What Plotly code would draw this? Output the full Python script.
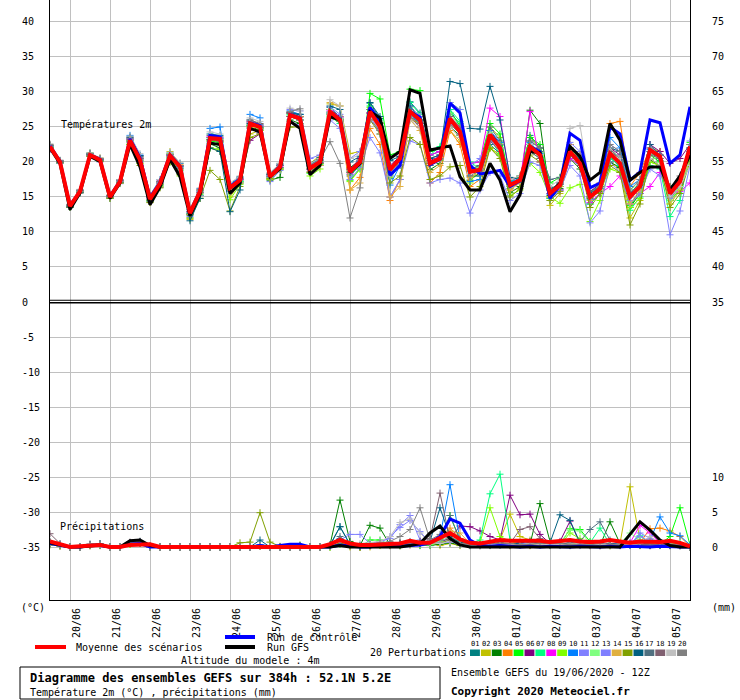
import plotly.graph_objects as go
import pandas as pd

# 6-hourly steps from 19/06/2020 12Z to +384h
times = pd.date_range("2020-06-19 12:00", periods=65, freq="6h")
day_ticks = pd.date_range("2020-06-20", "2020-07-05", freq="D")
day_labels = [d.strftime("%d/%m") for d in day_ticks]

left_ticks = [40, 35, 30, 25, 20, 15, 10, 5, 0, -5, -10, -15, -20, -25, -30, -35]
right_ticks = [40, 35, 30, 25, 20, 15, 10, 5, 0, -25, -30, -35]
right_labels = ["75", "70", "65", "60", "55", "50", "45", "40", "35", "10", "5", "0"]

# --- 2m temperature (°C) ---
t_mean = [22.2,20.0,13.7,15.8, 21.0,20.3,15.0,17.2, 23.1,20.3,14.7,16.9, 20.9,19.3,12.7,15.8, 23.4,23.3,16.3,17.4, 25.5,25.0,17.9,19.3, 26.7,26.2,19.1,20.0, 27.2,26.0,18.6,20.0, 27.2,25.0,18.9,20.5, 27.2,26.0,19.8,20.5, 26.2,24.3,18.6,18.9, 23.9,22.0,16.7,17.4, 22.2,21.0,15.5,16.7, 21.5,19.8,15.0,16.2, 21.2,19.8,15.0,16.5, 21.7,20.8,15.5,17.2, 22.2]
t_ctrl = [22.3,20.1,13.8,15.8, 21.0,20.4,15.1,17.3, 23.3,20.6,14.9,17.1, 21.0,19.4,12.8,15.9, 23.8,23.6,16.5,17.5, 25.6,25.2,17.9,19.4, 26.8,26.3,19.2,20.0, 27.2,26.1,18.5,19.9, 27.8,25.8,18.1,19.5, 27.2,26.4,19.6,20.4, 28.4,27.0,19.5,18.3, 18.5,18.8,16.5,17.3, 22.2,21.5,14.8,16.7, 24.1,23.1,16.3,17.0, 25.0,24.0,17.4,18.6, 26.0,25.6,19.8,21.0, 27.9]
t_gfs = [22.0,19.8,13.2,15.6, 20.8,20.1,14.8,17.0, 22.5,19.3,13.9,16.4, 20.4,17.9,12.3,15.4, 22.7,22.5,15.5,17.0, 24.8,24.3,17.9,19.0, 25.8,24.8,18.2,19.5, 26.5,26.0,18.5,19.8, 27.2,26.3,20.5,21.5, 30.3,29.8,21.7,22.0, 22.3,17.9,16.0,16.0, 19.8,17.4,12.9,15.3, 21.5,21.3,15.5,17.0, 22.2,20.8,17.4,18.5, 25.5,23.1,17.4,18.5, 19.3,19.3,16.0,18.0, 21.0]

t01 = [22.0,20.1,13.8,15.9, 21.2,20.5,15.2,17.0, 23.5,20.8,14.9,17.0, 20.6,19.0,12.9,15.6, 24.0,23.8,16.8,17.9, 26.0,25.4,18.4,19.8, 27.1,26.8,19.5,20.6, 27.8,26.4,18.0,19.6, 28.4,26.2,17.6,19.8, 28.6,27.0,21.0,21.5, 27.5,25.0,18.0,18.0, 22.5,21.2,16.2,17.8, 23.8,22.0,14.8,16.0, 22.5,20.5,14.0,15.5, 20.8,19.2,13.8,16.0, 21.5,20.2,14.5,16.8, 22.0]
t02 = [22.4,20.2,13.6,15.6, 21.1,20.6,15.1,17.3, 22.8,19.8,14.2,16.4, 21.5,19.8,11.8,14.8, 22.0,21.5,15.0,17.0, 24.0,24.5,18.2,19.5, 27.0,26.5,19.8,20.9, 28.3,28.0,21.2,21.5, 26.5,24.5,18.6,20.0, 26.0,25.6,20.5,21.0, 24.5,23.0,18.8,19.5, 25.0,23.5,17.0,17.5, 23.5,22.0,13.8,15.5, 20.5,19.5,15.8,16.5, 20.0,19.0,12.0,14.5, 20.0,19.5,16.5,17.5, 21.5]
t03 = [22.1,19.9,13.5,15.7, 21.3,20.4,14.9,17.1, 23.0,20.5,14.5,16.6, 20.2,18.4,12.4,15.2, 22.6,22.0,16.0,17.2, 25.0,24.6,17.4,17.8, 26.0,25.5,19.0,19.8, 26.8,26.0,19.2,20.2, 27.5,25.6,19.2,20.0, 26.5,25.5,18.9,19.8, 25.0,23.8,17.4,18.5, 24.5,22.4,15.6,16.5, 27.4,25.5,15.2,16.2, 20.5,19.0,14.8,15.8, 20.0,19.2,13.5,15.5, 20.3,19.5,15.5,17.0, 21.0]
t04 = [22.3,20.0,13.9,16.0, 21.0,20.3,15.3,17.4, 23.3,20.6,15.0,17.2, 21.2,19.6,13.2,16.0, 23.0,23.0,16.6,17.6, 25.6,25.0,17.6,19.0, 26.5,26.0,19.0,19.5, 27.5,25.8,16.0,17.8, 24.8,22.5,14.5,17.5, 26.5,25.0,17.0,18.5, 24.5,22.5,16.5,17.5, 22.0,21.0,16.0,17.2, 22.5,21.0,15.0,16.5, 22.5,20.0,15.5,17.0, 25.5,25.8,16.5,18.5, 22.0,21.5,14.5,16.5, 20.5]
t05 = [22.0,19.8,13.6,15.8, 20.8,20.1,14.8,17.0, 22.5,20.0,14.4,16.8, 20.5,18.8,12.6,15.4, 23.0,22.8,15.8,17.0, 25.2,24.8,17.6,19.0, 26.5,26.0,18.4,19.6, 27.0,26.2,17.4,19.0, 29.8,29.0,21.0,21.5, 30.4,30.2,21.5,22.0, 27.0,25.5,19.8,20.0, 25.5,24.0,17.2,18.0, 23.5,22.5,17.0,17.8, 22.0,20.0,15.0,16.5, 22.0,20.5,13.8,15.5, 21.0,20.0,14.5,16.0, 22.8]
t06 = [21.8,20.0,13.8,15.9, 20.9,20.2,15.0,17.3, 23.4,20.9,15.1,17.3, 21.0,19.5,12.5,15.6, 23.2,23.0,16.2,17.5, 23.1,24.0,17.8,19.5, 27.0,26.5,19.3,20.3, 27.5,26.5,19.0,20.5, 27.0,24.8,19.5,20.8, 27.0,25.5,20.2,20.8, 25.5,24.0,18.5,19.0, 24.5,22.5,16.8,17.4, 22.0,21.5,16.0,17.0, 21.5,20.5,15.8,16.8, 22.0,21.0,15.5,16.5, 22.5,21.5,19.8,20.5, 22.5]
t07 = [22.2,20.1,13.7,15.7, 21.0,20.2,15.1,17.1, 23.0,20.2,14.6,16.8, 20.8,19.2,12.6,15.9, 23.5,23.3,16.0,17.2, 25.2,24.8,18.0,19.0, 26.8,26.0,19.5,20.0, 26.5,25.5,18.2,19.4, 28.0,26.0,19.0,20.5, 28.5,26.8,21.0,22.2, 27.5,25.8,20.0,19.0, 23.5,21.0,16.5,17.5, 21.5,20.5,14.8,16.5, 20.5,19.5,14.0,15.5, 20.5,19.5,13.1,15.0, 19.5,19.0,12.2,14.5, 21.5]
t08 = [22.1,20.0,13.6,15.8, 21.1,20.4,15.0,17.2, 23.2,20.4,14.8,17.0, 20.9,19.3,12.9,15.9, 23.6,23.4,16.4,17.5, 25.8,25.2,18.0,19.3, 26.5,26.0,18.9,19.9, 27.4,26.3,18.3,20.2, 27.0,25.0,18.5,20.0, 27.5,26.5,21.0,21.5, 26.5,24.8,19.8,20.0, 27.7,26.5,17.6,17.2, 27.2,20.0,15.5,16.0, 20.5,19.5,14.2,15.5, 16.5,18.0,14.0,15.5, 16.5,18.5,15.3,15.8, 17.0]
t09 = [22.0,19.9,13.7,15.9, 21.0,20.2,14.9,17.0, 22.6,19.8,14.4,16.5, 20.0,18.0,12.0,15.2, 22.0,21.8,14.6,16.8, 24.8,24.5,17.5,18.9, 25.8,25.0,18.0,19.0, 26.6,26.0,17.2,19.0, 27.8,25.5,17.8,19.6, 27.5,26.0,20.0,20.2, 28.5,27.5,17.0,19.5, 22.0,21.0,15.2,16.0, 19.8,18.5,15.0,14.1, 16.3,16.8,11.5,14.5, 19.0,18.5,13.5,14.8, 20.0,19.5,14.0,16.0, 22.5]
t10 = [22.3,20.2,13.9,16.0, 21.2,20.4,15.2,17.4, 23.8,21.0,15.2,17.5, 21.3,19.8,13.2,16.2, 24.8,25.0,16.8,17.8, 26.8,26.3,18.2,19.6, 27.3,26.8,19.6,20.3, 27.0,25.8,18.5,20.1, 26.5,24.5,16.7,19.5, 26.8,25.5,19.5,20.5, 25.8,24.0,17.2,17.5, 24.5,22.8,17.2,17.6, 22.8,21.2,15.4,16.5, 21.0,19.8,14.6,16.2, 23.5,22.0,16.5,17.5, 21.8,20.5,15.5,17.2, 21.5]
t11 = [21.9,19.8,13.5,15.6, 20.8,20.0,14.8,16.9, 22.8,20.0,14.3,16.4, 20.2,18.6,12.2,15.2, 22.8,22.5,15.8,17.0, 24.8,24.2,17.2,18.8, 25.8,25.2,18.6,19.5, 26.0,24.8,17.5,19.2, 23.5,21.3,15.0,17.5, 23.0,22.5,17.0,17.5, 17.7,17.0,12.7,16.0, 18.5,18.0,14.5,15.5, 20.0,19.5,14.5,16.0, 19.5,18.0,11.3,13.0, 20.0,18.5,14.0,15.5, 19.0,18.0,9.6,13.0, 19.5]
t12 = [22.2,20.0,13.8,15.8, 21.0,20.3,15.1,17.2, 23.1,20.3,14.6,16.9, 21.2,19.5,12.8,15.9, 23.3,23.2,16.2,17.3, 25.3,24.9,17.8,19.2, 26.6,26.0,19.2,20.1, 27.5,26.2,18.8,20.3, 27.5,25.0,18.0,20.5, 27.8,26.5,19.5,20.5, 27.0,25.0,18.5,19.5, 24.2,22.0,16.5,17.2, 22.5,21.5,16.0,17.0, 22.0,20.5,15.5,16.8, 21.0,20.0,16.0,17.0, 21.0,20.5,14.5,16.5, 20.5]
t13 = [22.3,20.1,13.7,15.9, 21.0,20.3,15.0,17.3, 23.3,20.6,14.8,17.1, 21.0,19.4,12.8,15.8, 23.5,23.5,16.5,17.6, 25.6,25.2,18.0,19.5, 27.5,27.3,20.5,21.0, 27.9,26.8,20.5,21.5, 26.5,24.0,15.0,17.5, 28.0,26.5,20.5,21.0, 28.5,27.5,19.5,20.5, 23.0,22.0,16.5,17.5, 22.5,21.5,16.0,17.0, 22.8,21.5,15.0,16.0, 22.5,21.5,14.5,16.5, 22.0,21.0,14.8,17.0, 23.0]
t14 = [22.0,20.0,13.6,15.7, 20.9,20.2,14.9,17.0, 23.0,20.2,14.6,16.8, 20.8,19.0,12.5,15.6, 23.2,23.0,16.0,17.0, 25.0,24.8,17.6,19.0, 27.0,26.5,18.6,19.5, 28.5,28.0,16.0,17.0, 27.0,25.0,15.0,16.5, 26.0,24.5,18.5,19.5, 25.0,23.5,17.8,18.5, 23.5,22.0,16.0,17.0, 22.0,21.0,15.0,16.5, 22.0,21.0,14.5,16.0, 21.5,20.5,14.0,16.0, 20.5,19.5,14.0,16.0, 21.0]
t15 = [22.1,19.9,13.5,15.6, 20.8,20.1,14.8,17.0, 22.5,19.5,14.2,16.3, 20.0,18.2,12.0,14.8, 18.8,17.5,13.0,16.5, 23.5,24.0,17.6,19.2, 25.0,25.0,18.5,19.8, 26.3,25.8,18.5,19.8, 26.0,24.0,17.0,18.0, 23.5,22.5,17.5,18.0, 19.3,19.5,15.0,16.5, 22.0,20.5,15.0,16.2, 21.0,20.0,14.5,15.8, 21.0,19.5,13.5,15.5, 19.5,18.5,11.0,14.0, 20.5,19.5,13.5,15.5, 20.0]
t16 = [22.3,20.1,13.6,15.6, 21.1,20.4,15.2,17.5, 23.6,20.9,15.1,17.2, 21.0,19.4,11.6,14.8, 22.0,21.5,12.9,16.0, 25.5,25.0,18.2,19.5, 27.0,26.8,19.8,20.6, 28.0,27.5,20.0,20.8, 28.5,26.5,20.2,20.8, 28.0,26.0,20.5,21.0, 31.5,31.2,24.8,24.7, 30.8,26.0,17.8,17.5, 23.0,22.0,16.2,16.8, 21.5,20.5,15.5,16.5, 22.0,21.5,15.5,17.0, 22.5,21.0,16.0,17.5, 22.0]
t17 = [22.0,19.9,13.6,15.7, 20.9,20.2,15.0,17.1, 23.0,20.3,14.6,16.9, 20.7,19.1,12.6,15.7, 23.2,23.0,16.2,17.4, 25.3,24.9,17.9,19.2, 26.5,26.0,19.0,19.9, 27.0,26.0,18.6,20.0, 27.0,25.0,18.0,20.0, 27.5,26.0,19.5,20.3, 26.0,24.5,19.0,19.5, 25.0,23.0,17.5,18.0, 22.5,21.5,17.5,17.8, 21.0,20.0,15.8,16.5, 21.5,20.5,15.5,17.0, 21.5,20.5,16.5,17.5, 22.0]
t18 = [22.4,20.1,13.8,15.9, 21.1,20.4,15.1,17.3, 23.2,20.5,14.9,17.1, 21.0,19.4,12.9,16.0, 23.8,23.6,16.6,17.7, 26.0,25.5,18.3,19.6, 27.0,26.4,19.4,20.2, 27.2,26.0,18.9,20.3, 27.5,25.5,19.2,20.6, 26.5,25.0,19.8,20.5, 26.5,25.0,18.5,19.0, 23.0,21.5,16.8,17.5, 21.5,20.5,15.5,16.8, 21.0,19.5,15.0,16.3, 21.8,20.5,15.0,16.8, 21.0,20.5,15.0,17.0, 21.8]
t19 = [22.6,20.3,14.0,16.1, 21.3,20.6,15.3,17.5, 23.7,21.2,15.3,17.5, 21.4,19.9,13.3,16.3, 24.3,24.0,17.0,18.0, 26.3,25.8,18.5,19.8, 27.7,27.3,19.8,20.5, 28.9,28.0,20.5,21.0, 26.5,24.5,18.0,19.8, 26.0,25.0,20.0,20.5, 25.0,23.5,18.5,19.0, 24.0,22.5,17.5,18.0, 22.5,21.0,16.5,17.5, 24.8,25.2,16.5,17.0, 22.0,20.5,15.0,17.0, 20.5,19.5,15.0,16.5, 19.5]
t20 = [22.5,20.2,13.9,16.0, 21.2,20.5,15.2,17.4, 23.4,20.7,15.0,17.2, 21.1,19.5,13.0,16.1, 23.5,23.3,16.4,17.6, 25.8,25.3,18.0,19.5, 27.2,27.6,19.6,20.3, 22.9,19.8,12.0,16.3, 26.0,24.5,18.5,19.5, 26.5,25.5,20.0,20.5, 25.5,24.0,18.0,18.8, 23.5,22.5,17.0,17.5, 23.0,22.0,16.0,17.0, 22.0,21.0,15.0,16.5, 22.5,21.5,16.0,17.5, 22.0,21.0,16.0,18.0, 22.5]

# --- precipitation (mm / 6h) ---
p_mean = [0.8,0.4,0.0,0.1, 0.2,0.3,0.0,0.0, 0.3,0.4,0.4,0.0, 0,0,0,0, 0,0,0,0, 0.1,0.1,0.1,0.1, 0.1,0.1,0.0,0.0, 0.4,1.0,0.5,0.3, 0.3,0.4,0.4,0.5, 0.9,0.6,0.6,1.3, 2.0,1.1,0.6,0.5, 0.8,1.0,0.9,0.9, 0.9,0.9,0.7,0.9, 1.0,0.8,0.7,0.8, 1.0,0.8,0.6,0.8, 0.8,0.7,0.9,0.6, 0.1]
p_ctrl = [0.5,0.2,0,0, 0.2,0.2,0,0, 0.4,0.5,0,0, 0,0,0,0, 0,0,0,0, 0,0.2,0,0.2, 0.4,0.4,0,0, 0,0.3,0.1,0, 0,0.3,0.2,0.1, 0.2,0.3,0.6,1.5, 4.0,3.4,1.0,0.2, 0.1,0.2,0.1,0, 0.1,0,0.1,0, 0,0.1,0,0, 0.1,0,0.1,0, 0,0.1,0,0, 0.0]
p_gfs = [0.6,0.3,0,0, 0.2,0.3,0,0, 0.9,1.0,0.2,0, 0,0,0,0, 0,0,0,0, 0,0,0,0, 0,0,0,0, 0,0.2,0,0, 0,0.1,0,0, 0.2,0.5,2.0,3.0, 1.2,0.3,0,0, 0,0,0,0, 0,0,0,0, 0,0,0,0, 0,0,1.8,3.6, 2.4,1.0,0.2,0, 0.0]

p01 = [0.6,0.3,0,0, 0.3,0.4,0,0, 0.5,0.6,0.1,0, 0,0,0,0, 0,0,0,0, 0,0.3,0,0, 0,0,0,0, 0.2,2.9,0.3,0, 0.2,0.5,0.3,0.4, 0.6,0.2,0.4,0.8, 1.2,0.4,0.2,0.3, 0.5,0.3,0.2,0.4, 0.6,0.3,0.2,0.3, 0.4,0.6,0.2,0.3, 0.2,0.3,0.2,0.4, 0.3,0.2,0.3,0.2, 0.0]
p02 = [0.5,0.2,0,0, 0.2,0.3,0,0, 0.4,0.5,0,0, 0,0,0,0, 0,0,0,0, 0,0.1,0,0, 0,0,0,0, 0,0.5,0,0, 0,0.3,0.5,0.2, 0.3,0.8,0.6,0.2, 0.5,0.2,0.3,0.2, 0.4,1.0,4.7,1.5, 1.0,0.5,0.4,0.3, 0.2,0.4,0.3,0.2, 0.3,0.5,8.6,1.0, 0.5,0.3,0.4,0.2, 0.0]
p03 = [0.7,0.3,0,0, 0.3,0.3,0,0, 0.6,0.8,0.1,0, 0,0,0,0, 0,0,0,0, 0,0.2,0,0, 0,0,0,0, 0.3,6.7,0.8,0.2, 3.1,2.7,0.3,0.2, 0.5,0.3,0.2,0.4, 0.6,0.3,0.2,0.3, 0.2,0.4,0.3,0.5, 0.4,6.2,0.8,0.3, 0.2,0.3,0.4,0.2, 3.6,0.5,0.3,0.2, 0.2,0.3,0.2,0.3, 0.0]
p04 = [0.5,0.3,0,0, 0.2,0.3,0,0, 0.5,0.5,0,0, 0,0,0,0, 0,0,0,0, 0,0.2,0,0, 0,0,0,0, 0.1,0.6,0.2,0, 0.2,0.3,0.2,0.3, 0.4,0.6,0.5,1.0, 2.7,1.2,0.3,0.2, 0.3,0.5,0.2,0.3, 0.2,0.3,0.2,0.4, 0.3,0.5,0.2,0.3, 0.2,0.3,0.4,0.6, 2.6,2.7,2.3,1.5, 0.1]
p05 = [0.5,0.2,0,0, 0.2,0.3,0,0, 0.5,0.6,0,0, 0,0,0,0, 0,0,0,0, 0,0.1,0,0, 0,0,0,0, 0,0.4,0.2,0, 1.0,1.0,0.3,0.5, 0.6,0.4,0.5,1.2, 4.5,1.0,0.3,0.2, 0.4,0.3,0.2,0.5, 0.4,0.3,0.4,0.3, 2.6,2.5,0.8,0.3, 0.2,0.3,0.4,0.3, 0.3,0.4,1.5,5.6, 0.3]
p06 = [0.6,0.3,0,0, 0.3,0.3,0,0, 0.6,0.7,0,0, 0,0,0,0, 0,0,0,0, 0,0.2,0,0, 0,0,0,0, 0.1,0.5,0.2,0, 0.2,0.4,0.3,0.3, 0.5,0.8,0.6,0.8, 1.2,3.0,2.9,2.3, 1.5,1.0,7.4,4.6, 4.7,1.8,0.5,0.8, 3.7,0.5,0.3,0.2, 0.3,0.2,0.4,0.3, 0.2,0.3,0.2,0.3, 0.0]
p07 = [0.5,0.3,0,0, 0.3,0.2,0,0, 0.5,0.6,0,0, 0,0,0,0, 0,0,0,0, 0,0.1,0,0, 0,0,0,0, 0.2,0.8,0.3,0.1, 0.3,0.5,0.2,0.3, 0.4,0.3,0.5,0.6, 0.8,0.6,0.4,1.0, 7.6,10.4,1.0,0.6, 0.4,0.5,0.3,0.5, 0.3,0.4,0.6,2.7, 0.4,0.3,0.5,1.6, 0.5,0.3,0.4,0.6, 0.0]
p08 = [0.6,0.3,0,0, 0.2,0.3,0,0, 0.5,0.7,0,0, 0,0,0,0, 0,0,0,0, 0,0.1,0,0, 0,0,0,0, 0.1,0.9,0.2,0, 0.3,0.4,0.2,0.3, 0.3,0.5,0.6,0.8, 1.5,0.7,0.3,0.3, 0.5,0.4,0.3,0.5, 0.4,0.3,0.5,0.4, 0.3,0.4,0.3,0.2, 0.4,0.5,0.6,3.1, 2.0,0.6,0.4,0.3, 0.0]
p09 = [0.5,0.2,0,0, 0.3,0.3,0,0, 0.4,0.6,0,0, 0,0,0,0, 0,0,0,0, 0,0.2,0,0, 0,0,0,0, 0.1,0.5,0.2,0, 0.3,0.2,0.3,0.2, 0.4,0.3,0.4,0.7, 0.8,0.5,0.3,0.6, 5.6,1.5,0.8,0.5, 0.3,0.6,0.4,0.3, 2.0,1.2,0.4,0.3, 0.2,0.3,0.5,0.4, 0.6,0.4,0.5,0.3, 0.0]
p10 = [0.6,0.3,0,0, 0.3,0.4,0,0, 0.6,0.7,0,0, 0,0,0,0, 0,0,0,0, 0,0.3,0,0, 0,0,0,0, 0.2,1.2,0.3,0.1, 0.3,0.5,0.3,0.2, 0.4,0.6,0.5,1.5, 8.9,1.0,0.4,0.3, 0.5,0.3,0.4,0.6, 0.3,0.4,0.3,0.5, 0.4,0.3,0.5,0.4, 0.3,0.4,0.3,0.6, 1.0,4.3,2.0,1.6, 0.3]
p11 = [0.5,0.3,0,0, 0.3,0.3,0,0, 0.5,0.6,0.1,0, 0,0,0,0, 0,0,0,0, 0,0.2,0,0, 0,0,0,0, 0.2,1.0,1.8,1.8, 0.5,0.8,1.2,3.2, 4.5,1.0,0.5,0.6, 0.8,0.4,0.3,0.2, 0.4,0.3,0.5,0.4, 0.3,0.4,0.3,0.2, 0.4,0.3,0.2,0.5, 0.3,0.4,0.6,1.5, 0.8,0.4,0.3,0.2, 0.0]
p12 = [0.5,0.3,0,0, 0.2,0.3,0,0, 0.4,0.5,0,0, 0,0,0,0, 0,0,0,0, 0,0.1,0,0, 0,0,0,0, 0.1,0.7,0.2,0, 0.4,0.6,0.3,0.2, 0.5,0.4,0.3,0.9, 1.4,0.8,0.5,0.3, 0.6,0.5,0.4,0.3, 0.5,0.4,0.3,0.6, 2.4,2.3,0.5,0.4, 0.3,0.5,2.0,1.0, 0.4,0.5,0.3,0.2, 0.0]
p13 = [0.6,0.3,0,0, 0.3,0.3,0,0, 0.5,0.7,0,0, 0,0,0,0, 0,0,0,0, 0,0.2,0,0, 0,0,0,0, 0.1,0.8,0.5,0.3, 0.4,0.6,1.5,2.8, 3.8,2.2,0.6,0.5, 0.7,0.5,0.3,0.2, 0.3,0.4,0.3,0.5, 0.4,0.3,0.5,0.4, 0.3,0.2,0.4,0.3, 0.5,0.4,0.3,2.0, 1.2,0.5,0.3,0.2, 0.0]
p14 = [0.5,0.2,0,0, 0.2,0.3,0,0, 0.4,0.5,0,0, 0,0,0,0, 0,0,0,0, 0,0.1,0,0, 0,0,0,0, 0.1,0.6,0.2,0, 0.2,0.3,0.2,0.3, 0.5,0.4,0.6,1.2, 2.3,2.0,0.5,0.3, 0.4,0.3,0.2,0.4, 0.3,0.4,0.5,0.3, 0.4,0.3,0.2,0.3, 0.2,0.3,0.4,0.5, 0.6,0.5,0.4,0.3, 0.0]
p15 = [0.3,0.1,0,0, 0.2,0.2,0,0, 0.4,0.5,0,0, 0,0,0,0, 0,0,0,0.6, 0.7,4.9,0.7,0.1, 0,0.3,0,0, 0,0.5,0.2,0, 0.2,0.4,0.3,0.2, 0.4,0.5,0.6,0.5, 1.0,0.6,0.4,0.3, 0.4,0.6,0.5,0.3, 0.2,0.4,0.3,0.5, 0.4,0.5,0.3,0.2, 0.3,0.2,0.4,0.3, 0.2,0.5,0.3,0.2, 0.0]
p16 = [0.7,0.4,0,0, 0.4,0.5,0,0, 0.6,0.8,0.1,0, 0,0,0,0, 0,0,0,0, 0,1.0,0,0, 0,0.2,0,0, 0.3,2.9,0.4,0.1, 0.3,0.5,0.4,0.5, 0.6,0.5,0.8,5.6, 1.5,0.6,0.4,0.3, 0.5,0.4,0.3,0.6, 0.8,0.5,0.6,4.6, 3.8,0.6,0.4,0.3, 0.5,0.4,0.3,0.5, 0.4,0.3,0.2,0.3, 0.0]
p17 = [0.5,0.3,0,0, 0.3,0.3,0,0, 0.5,0.6,0,0, 0,0,0,0, 0,0,0,0, 0,0.2,0,0, 0,0,0,0, 0.2,1.5,0.3,0.1, 0.3,0.4,0.5,0.6, 0.8,0.5,0.6,1.0, 4.5,1.0,0.5,0.4, 0.3,0.5,0.4,0.3, 0.4,0.5,0.3,0.4, 0.6,0.8,2.5,3.6, 1.0,0.5,0.3,0.4, 0.3,0.4,0.3,0.2, 0.0]
p18 = [1.9,0.5,0,0, 0.4,0.4,0,0, 0.7,0.8,0.1,0, 0,0,0,0, 0,0,0,0, 0,0.2,0,0, 0,0,0,0, 0.2,1.0,0.4,0.2, 0.3,0.5,0.4,0.6, 0.5,0.8,1.2,7.7, 1.0,0.5,0.4,0.3, 0.4,0.6,0.5,2.5, 2.9,1.2,0.5,0.4, 0.3,0.4,0.5,0.3, 0.4,0.3,0.5,0.4, 0.3,0.4,0.3,0.2, 0.0]
p19 = [0.6,0.3,0,0, 0.3,0.3,0,0, 0.5,0.6,0,0, 0,0,0,0, 0,0,0,0, 0,0.2,0,0, 0,0,0,0, 0.1,0.8,0.3,0.5, 0.6,0.8,1.5,3.5, 4.0,2.0,0.6,0.5, 0.8,0.4,0.3,0.2, 0.4,0.3,0.4,0.3, 0.5,0.3,0.4,0.3, 0.4,0.5,0.3,0.4, 0.3,0.4,0.3,0.5, 1.5,0.6,0.4,0.3, 0.0]
p20 = [0.7,0.3,0,0, 0.3,0.4,0,0, 0.6,0.7,0,0, 0,0,0,0, 0,0,0,0, 0,0.2,0,0, 0,0,0,0, 0.2,1.0,0.3,0.2, 0.3,0.6,0.8,1.5, 2.5,5.6,1.0,1.8, 1.2,0.5,0.4,0.3, 0.6,0.4,0.5,0.3, 0.4,0.5,0.6,0.5, 0.3,0.4,0.3,0.5, 0.4,0.3,0.5,0.6, 0.8,0.5,0.4,0.3, 0.0]

member_colors = ["#008080", "#c0c000", "#008000", "#ff8000", "#00ff00",
                 "#800080", "#00ff80", "#ff00ff", "#80ff00", "#0080ff",
                 "#8080ff", "#80ff80", "#7f7fff", "#e0b040", "#80a000",
                 "#006080", "#507080", "#806070", "#c0c0c0", "#808080"]
member_temps = [t01, t02, t03, t04, t05, t06, t07, t08, t09, t10,
                t11, t12, t13, t14, t15, t16, t17, t18, t19, t20]
member_precs = [p01, p02, p03, p04, p05, p06, p07, p08, p09, p10,
                p11, p12, p13, p14, p15, p16, p17, p18, p19, p20]

for s in member_temps + member_precs + [t_mean, t_ctrl, t_gfs, p_mean, p_ctrl, p_gfs]:
    assert len(s) == len(times), len(s)

MM_OFFSET = 35  # precipitation panel: 0 mm sits on the -35 line
FONT = "DejaVu Sans Mono"

fig = go.Figure()

# perturbations (thin lines with + markers)
for col, t, p in zip(member_colors, member_temps, member_precs):
    for ys in (t, [v - MM_OFFSET for v in p]):
        fig.add_trace(go.Scatter(
            x=times, y=ys, mode="lines+markers",
            line=dict(color=col, width=1),
            marker=dict(symbol="cross-thin", size=5, line=dict(color=col, width=1)),
            showlegend=False, hoverinfo="skip",
        ))

# control, GFS, mean
for ys_t, ys_p, col, w in [(t_ctrl, p_ctrl, "#0000ff", 3),
                           (t_gfs, p_gfs, "#000000", 3),
                           (t_mean, p_mean, "#ff0000", 4)]:
    for ys in (ys_t, [v - MM_OFFSET for v in ys_p]):
        fig.add_trace(go.Scatter(x=times, y=ys, mode="lines",
                                 line=dict(color=col, width=w),
                                 showlegend=False, hoverinfo="skip"))


# pixel -> paper helpers for the decorations around the plot
def px(x):
    return (x - 50) / 640


def py(y):
    return (600 - y) / 600


def txt(s, x, y, size=10, anchor="left"):
    return dict(text=s, xref="paper", yref="paper", x=px(x), y=py(y),
                xanchor=anchor, yanchor="middle", showarrow=False,
                font=dict(family=FONT, size=size, color="#000000"))


ann = []
for v in left_ticks:
    ann.append(dict(text=str(v), xref="paper", yref="y", x=px(20), y=v,
                    xanchor="left", yanchor="middle", showarrow=False,
                    font=dict(family=FONT, size=10, color="#000000")))
for v, lab in zip(right_ticks, right_labels):
    ann.append(dict(text=lab, xref="paper", yref="y", x=px(710), y=v,
                    xanchor="left", yanchor="middle", showarrow=False,
                    font=dict(family=FONT, size=10, color="#000000")))

ann += [
    dict(text="Températures 2m", xref="paper", yref="y", x=px(59), y=25.4,
         xanchor="left", yanchor="middle", showarrow=False,
         font=dict(family=FONT, size=10, color="#000000")),
    dict(text="Précipitations", xref="paper", yref="y", x=px(58), y=-32.0,
         xanchor="left", yanchor="middle", showarrow=False,
         font=dict(family=FONT, size=10, color="#000000")),
    txt("(°C)", 19, 607),
    txt("(mm)", 710, 607),
    txt("Moyenne des scénarios", 74, 647),
    txt("Run de contrôle", 265, 637),
    txt("Run GFS", 265, 647),
    txt("Altitude du modele : 4m", 179, 660),
    txt("<b>Diagramme des ensembles GEFS sur 384h : 52.1N 5.2E</b>", 28, 678, size=12),
    txt("Température 2m (°C) , précipitations (mm)", 28, 692),
    txt("20 Perturbations", 368, 652),
    txt("Ensemble GEFS du 19/06/2020 - 12Z", 449, 672),
    txt("<b>Copyright 2020 Meteociel.fr</b>", 449, 691, size=11),
]

shapes = [
    # double separator line between the two panels
    dict(type="line", xref="paper", yref="y", x0=0, x1=1, y0=0.25, y1=0.25,
         line=dict(color="black", width=1)),
    dict(type="line", xref="paper", yref="y", x0=0, x1=1, y0=-0.1, y1=-0.1,
         line=dict(color="black", width=1.5)),
    # legend lines
    dict(type="line", xref="paper", yref="paper", x0=px(35), x1=px(66), y0=py(647), y1=py(647),
         line=dict(color="#ff0000", width=4)),
    dict(type="line", xref="paper", yref="paper", x0=px(225), x1=px(255), y0=py(637), y1=py(637),
         line=dict(color="#0000ff", width=4)),
    dict(type="line", xref="paper", yref="paper", x0=px(225), x1=px(255), y0=py(647), y1=py(647),
         line=dict(color="#000000", width=4)),
    # title box
    dict(type="rect", xref="paper", yref="paper", x0=px(20), x1=px(440), y0=py(667), y1=py(699),
         line=dict(color="black", width=1)),
]

# perturbation colour swatches with their numbers
for k, col in enumerate(member_colors):
    x0 = 470 + k * 10.9
    shapes.append(dict(type="rect", xref="paper", yref="paper",
                       x0=px(x0), x1=px(x0 + 9.9), y0=py(656), y1=py(649.5),
                       line=dict(width=0), fillcolor=col))
    ann.append(txt(f"{k + 1:02d}", x0 + 5, 643.5, size=7, anchor="center"))

fig.update_layout(
    width=740, height=700,
    margin=dict(l=50, r=50, t=0, b=100),
    paper_bgcolor="white", plot_bgcolor="white",
    font=dict(family=FONT, size=10, color="black"),
    showlegend=False,
    xaxis=dict(
        range=[times[0], times[-1]],
        tickmode="array", tickvals=day_ticks, ticktext=day_labels,
        tickangle=-90, ticklabelshift=7, ticklabelstandoff=3, ticks="",
        showgrid=True, gridcolor="#c0c0c0", gridwidth=1,
        showline=True, linecolor="black", linewidth=1, mirror=False,
        zeroline=False, tickfont=dict(family=FONT, size=10, color="black"),
    ),
    yaxis=dict(
        range=[-42.57, 43.14],
        tickmode="array", tickvals=left_ticks, showticklabels=False, ticks="",
        showgrid=True, gridcolor="#c0c0c0", gridwidth=1,
        showline=True, linecolor="black", linewidth=1, mirror=True,
        zeroline=False,
    ),
    annotations=ann,
    shapes=shapes,
)

# the page's default body margin would shift the figure by 8 px
fig.write_html("out.html", config={"displayModeBar": False},
               post_script="document.body.style.margin='0px';")
